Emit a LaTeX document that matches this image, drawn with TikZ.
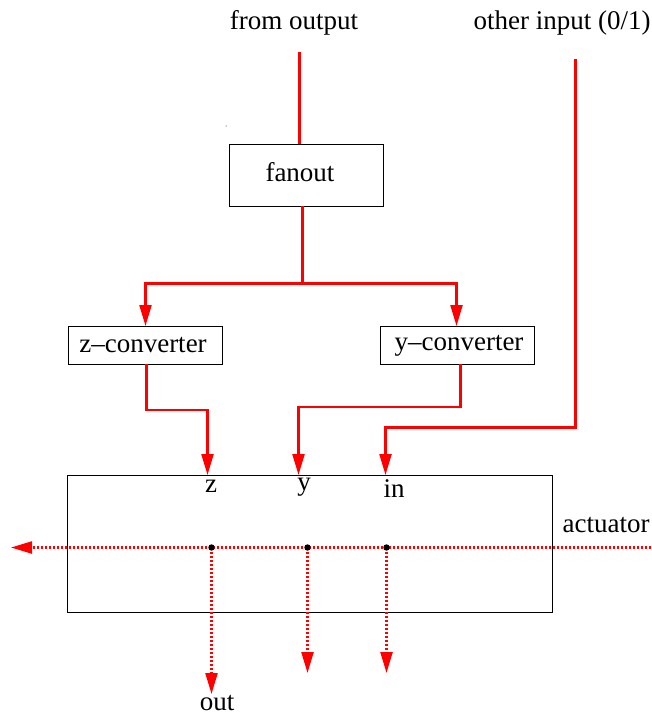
\documentclass[tikz,border=0pt]{standalone}
\usepackage{fontspec}
\setmainfont{Liberation Serif}
\usetikzlibrary{arrows.meta}
\definecolor{wirered}{rgb}{1,0,0}
\begin{document}
\begin{tikzpicture}[x=1pt,y=-1pt,
  box/.style={draw=black,line width=1pt,inner sep=0pt},
  lbl/.style={inner sep=0pt,font=\fontsize{27}{31}\selectfont},
  wire/.style={draw=wirered,line width=2.2pt},
  tip/.style={-{Triangle[width=12pt,length=21pt,fill=wirered]}},
  dotline/.style={draw=wirered,line width=2.2pt,dash pattern=on 2pt off 2pt},
  jdot/.style={fill=black}]
\useasboundingbox (0,0) rectangle (651,715);
% coordinates
\coordinate (fo) at (299.5,52);
\coordinate (oi) at (575.5,59);
\coordinate (oib) at (575.5,427.5);
\coordinate (fb) at (302.5,206);
\coordinate (split) at (302.5,283.5);
\coordinate (zin) at (207.5,475);
\coordinate (yin) at (298.5,475);
\coordinate (inin) at (385.5,475);
\coordinate (ar) at (651,547.5);
\coordinate (al) at (11,547.5);
\coordinate (dz) at (211.5,547.5);
\coordinate (dy) at (307.5,547.5);
\coordinate (din) at (386.5,547.5);
\coordinate (oz) at (211.5,694);
\coordinate (oy) at (307.5,673);
\coordinate (oin) at (386.5,673);
% boxes
\node[box,minimum width=154pt,minimum height=62pt] (fanout) at (306,175) {};
\node[box,minimum width=154pt,minimum height=38pt] (zc) at (145,345) {};
\node[box,minimum width=154pt,minimum height=38pt] (yc) at (457,345) {};
\node[box,minimum width=485pt,minimum height=137pt] (act) at (309.5,543.5) {};
% red wires
\draw[wire] (fo) -- (fo |- fanout.north);
\draw[wire,tip] (oi) -- (oib) -| (inin);
\draw[wire] (fb) -- (split);
\draw[wire,tip] (split) -| (145.5,326);
\draw[wire,tip] (split) -| (456.5,326);
\draw[wire,tip] (146.5,364) -- ++(0,46) -| (zin);
\draw[wire,tip] (460.5,364) -- ++(0,43) -| (yin);
\draw[dotline,tip] (ar) -- (al);
\draw[dotline,tip] (dz) -- (oz);
\draw[dotline,tip] (dy) -- (oy);
\draw[dotline,tip] (din) -- (oin);
\fill (226,126) circle (0.5pt);
\fill[jdot] (dz) circle (3.2pt);
\fill[jdot] (dy) circle (3.2pt);
\fill[jdot] (din) circle (3.2pt);
% texts
\node[lbl] (fromout) at (294,23) {from output};
\node[lbl] (other) at (562,23) {other input (0/1)};
\node[lbl] (fanoutl) at (300,172) {fanout};
\node[lbl] (zcl) at (143,345) {z\textendash converter};
\node[lbl] (ycl) at (459,346) {y\textendash converter};
\node[lbl,anchor=base] (zl) at (211,492) {z};
\node[lbl,anchor=base] (yl) at (304,490) {y};
\node[lbl,anchor=base] (inl) at (394,497) {in};
\node[lbl] (actl) at (606,525) {actuator};
\node[lbl] (outl) at (217,703) {out};
\end{tikzpicture}
\end{document}
